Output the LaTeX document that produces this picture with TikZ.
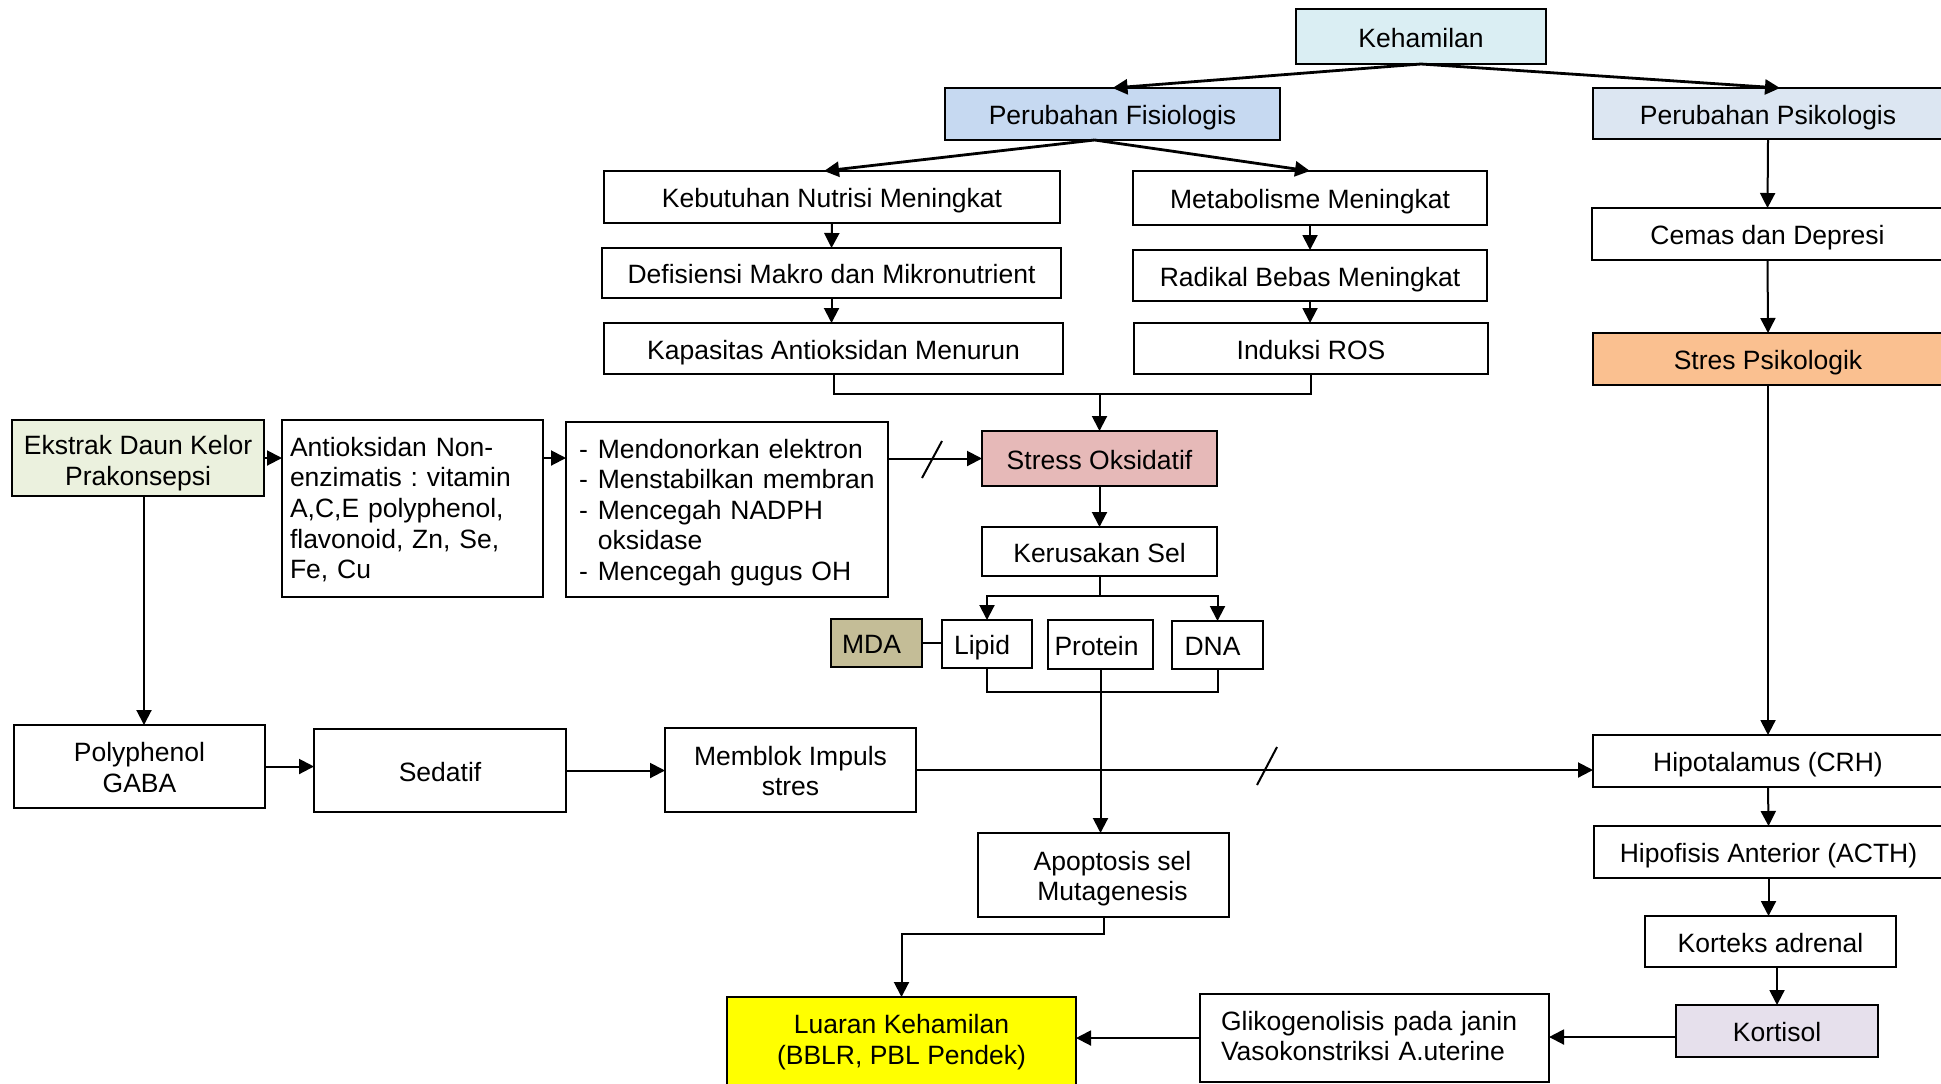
\documentclass[tikz,border=0pt]{standalone}
\usepackage{fontspec}
\setmainfont{Liberation Sans}
\usetikzlibrary{arrows.meta,calc}
\frenchspacing
\definecolor{cKeh}{HTML}{DAEEF3}
\definecolor{cFis}{HTML}{C6D9F1}
\definecolor{cPsi}{HTML}{DCE6F2}
\definecolor{cEks}{HTML}{EBF1DE}
\definecolor{cSO}{HTML}{E6B9B8}
\definecolor{cMDA}{HTML}{C4BD97}
\definecolor{cSP}{HTML}{FAC090}
\definecolor{cLua}{HTML}{FFFF00}
\definecolor{cKor}{HTML}{E6E0EC}
\newcommand\fsz{\fontsize{13.25}{15.3}\selectfont\frenchspacing}
\newcommand\bx[7]{\node[box,#6,minimum width={0.5pt*(#4-#2)},minimum height={0.5pt*(#5-#3)}] (#1) at ({(#2+#4)/2},{(#3+#5)/2}) {#7};}
\tikzset{
  box/.style={draw,line width=1pt,inner sep=0pt,outer sep=0pt,align=center,font=\fsz,text height=13.5pt,text depth=2.7pt},
  txt/.style={inner sep=0pt,outer sep=0pt,font=\fsz},
  one/.style={text height=13.5pt,text depth=2.7pt},
  arr/.style={line width=1pt,-{Triangle[length=7.5pt,width=7.5pt]}},
  arrK/.style={line width=1.4pt,-{Triangle[length=7.5pt,width=7.5pt]}},
  ln/.style={line width=1pt}
}
\begin{document}
\begin{tikzpicture}[x=0.5pt,y=-0.5pt]
\path[use as bounding box,clip] (0,0) rectangle (1941,1083);
\fill[white] (0,0) rectangle (1941,1083);
% boxes
\bx{keh}{1296}{9}{1546}{64}{fill=cKeh}{Kehamilan}
\bx{fis}{945}{88}{1280}{140}{fill=cFis}{Perubahan Fisiologis}
\bx{psi}{1593}{88}{1943}{139}{fill=cPsi}{Perubahan Psikologis}
\bx{keb}{604}{171}{1060}{223}{}{Kebutuhan Nutrisi Meningkat}
\bx{met}{1133}{171}{1487}{225}{}{Metabolisme Meningkat}
\bx{def}{602}{248}{1061}{298}{}{Defisiensi Makro dan Mikronutrient}
\bx{rad}{1133}{250}{1487}{301}{}{Radikal Bebas Meningkat}
\bx{kap}{604}{323}{1063}{374}{}{Kapasitas Antioksidan Menurun}
\bx{ros}{1134}{323}{1488}{374}{}{Induksi ROS}
\bx{cem}{1592}{208}{1943}{260}{}{Cemas dan Depresi}
\bx{sps}{1593}{333}{1943}{385}{fill=cSP}{Stres Psikologik}
\bx{eks}{12}{420}{264}{496}{fill=cEks}{}
\bx{ant}{282}{420}{543}{597}{}{}
\bx{men}{566}{422}{888}{597}{}{}
\bx{so}{982}{431}{1217}{486}{fill=cSO}{Stress Oksidatif}
\bx{ks}{982}{527}{1217}{576}{}{Kerusakan Sel}
\bx{mda}{831}{619}{922}{667}{fill=cMDA}{}
\bx{lip}{942}{620}{1032}{668}{}{}
\bx{pro}{1048}{620}{1153}{669}{}{}
\bx{dna}{1172}{621}{1263}{669}{}{}
\bx{pol}{14}{725}{265}{808}{}{}
\bx{sed}{314}{729}{566}{812}{}{Sedatif}
\bx{mem}{665}{728}{916}{812}{}{}
\bx{hip}{1593}{735}{1943}{787}{}{Hipotalamus (CRH)}
\bx{apo}{978}{833}{1229}{917}{}{}
\bx{hpf}{1594}{826}{1943}{878}{}{Hipofisis Anterior (ACTH)}
\bx{kad}{1645}{916}{1896}{967}{}{Korteks adrenal}
\bx{kor}{1676}{1005}{1878}{1057}{fill=cKor}{Kortisol}
\bx{gli}{1200}{994}{1549}{1082}{}{}
\bx{lua}{727}{997}{1076}{1100}{fill=cLua}{}
% texts placed inside boxes
\node[txt,align=center] (ekst) at ($(eks.center)+(0,5)$) {Ekstrak Daun Kelor\\Prakonsepsi};
\node[txt,align=left,text width=122.5pt] (antt) at ($(ant.center)+(0,1)$) {Antioksidan Non-\\enzimatis : vitamin\\A,C,E polyphenol,\\flavonoid, Zn, Se,\\Fe, Cu};
\node[txt,align=left,text width=148pt] (ment) at ($(men.center)+(0,3)$) {-\hspace{5pt}Mendonorkan elektron\\-\hspace{5pt}Menstabilkan membran\\-\hspace{5pt}Mencegah NADPH\\\hphantom{-}\hspace{5pt}oksidase\\-\hspace{5pt}Mencegah gugus OH};
\node[txt,one] (mdat) at ($(mda.center)+(-5,0)$) {MDA};
\node[txt,one] (lipt) at ($(lip.center)+(-5,0)$) {Lipid};
\node[txt,one] (prot) at ($(pro.center)+(-4,0)$) {Protein};
\node[txt,one] (dnat) at ($(dna.center)+(-5,0)$) {DNA};
\node[txt,align=center] (polt) at ($(pol.center)+(0,1)$) {Polyphenol\\GABA};
\node[txt,align=center] (memt) at ($(mem.center)+(0,1)$) {Memblok Impuls\\stres};
\node[txt,align=center] (apot) at ($(apo.center)+(9,3.5)$) {Apoptosis sel\\Mutagenesis};
\node[txt,align=left,text width=153.5pt] (glit) at ($(gli.center)+(0,-2)$) {Glikogenolisis pada janin\\Vasokonstriksi A.uterine};
\node[txt,align=center] (luat) at (901.5,1042) {Luaran Kehamilan\\(BBLR, PBL Pendek)};
% connectors
\draw[arrK] (keh.south) -- (fis.north);
\draw[arrK] (keh.south) -- ([xshift=6pt]psi.north);
\draw[arrK] ([xshift=-9pt]fis.south) -- ([xshift=-4pt]keb.north);
\draw[arrK] ([xshift=-9pt]fis.south) -- (met.north);
\draw[arr] (keb.south) -- (def.north);
\draw[arr] (def.south) -- (def.south |- kap.north);
\draw[arr] (met.south) -- (rad.north);
\draw[arr] (rad.south) -- (rad.south |- ros.north);
\draw[ln] (kap.south) -- ++(0,20) -| (ros.south);
\coordinate (j1) at (1099.5,394);
\draw[arr] (j1) -- (so.north);
\draw[arr] (so.south) -- (ks.north);
\coordinate (j2) at (1099.5,596);
\draw[ln] (ks.south) -- (j2);
\draw[arr] (j2) -| (lip.north);
\draw[arr] (j2) -| (dna.north);
\draw[ln] (mda.east) -- (mda.east -| lip.west);
\draw[ln] (lip.south) -- ++(0,24) -| (dna.south);
\draw[arr] (pro.south) -- (pro.south |- apo.north);
\draw[arr] (apo.south) -- ++(0,17) -| (lua.north);
\draw[arr] (gli.west) -- (gli.west -| lua.east);
\draw[arr] ([yshift=-3pt]kor.west) -- ([yshift=-3pt]kor.west -| gli.east);
\draw[arr] (psi.south) -- (cem.north);
\draw[arr] (cem.south) -- (sps.north);
\draw[arr] (sps.south) -- (hip.north);
\draw[arr] (hip.south) -- (hpf.north);
\draw[arr] (hpf.south) -- (hpf.south |- kad.north);
\draw[arr] (kor.north |- kad.south) -- (kor.north);
\draw[arr] (eks.east) -- (eks.east -| ant.west);
\draw[arr] (ant.east |- eks.east) -- (men.west |- eks.east);
\draw[arr] (men.east |- so.west) -- (so.west);
\draw[arr] ([xshift=3pt]eks.south) -- ([xshift=3pt]eks.south |- pol.north);
\draw[arr] (pol.east) -- (pol.east -| sed.west);
\draw[arr] (sed.east) -- (sed.east -| mem.west);
\draw[arr] (mem.east) -- (mem.east -| hip.west);
% block marks
\draw[ln] (942,441) -- (922,478);
\draw[ln] (1277,747) -- (1257,785);
\end{tikzpicture}
\end{document}
